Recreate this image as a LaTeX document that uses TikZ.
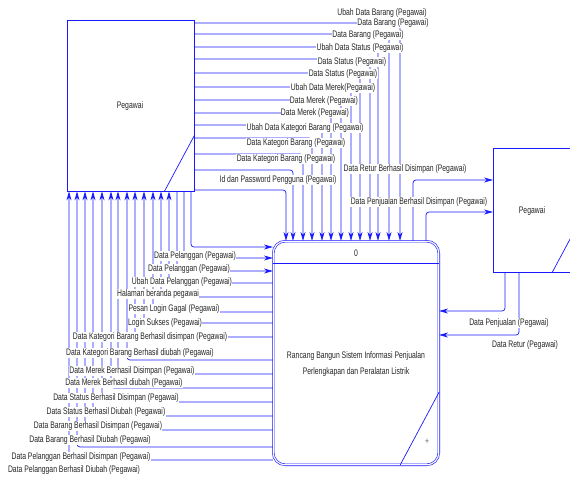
\documentclass[tikz,border=0pt]{standalone}
\usepackage{fontspec}
\setmainfont{Liberation Sans}[FakeStretch=0.72]
\usetikzlibrary{arrows.meta}
\definecolor{lineblue}{RGB}{25,25,255}
\tikzset{
  box/.style={draw=lineblue, line width=0.8pt, fill=white, inner sep=0pt},
  proc/.style={draw=lineblue, double, double distance=1.2pt, line width=0.6pt, rounded corners=12pt, inner sep=0pt},
  flow/.style={draw=lineblue, line width=0.7pt, rounded corners=3pt, -{Stealth[length=9pt,width=5pt]}},
  plain/.style={draw=lineblue, line width=0.7pt},
  lbl/.style={font=\fontsize{9.5}{11}\selectfont, fill=white, inner sep=0.4pt, text=black!85},
  txt/.style={font=\fontsize{9.5}{11}\selectfont, inner sep=0pt, text=black!85}
}
\begin{document}
\begin{tikzpicture}[x=1pt,y=-1pt]
\useasboundingbox (0,0) rectangle (570,479);
\clip (0,0) rectangle (570,479);
% entities and process
\node[box, minimum width=127pt, minimum height=171pt] (pegL) at (130.5,105.5) {};
\node[txt] (pegLlbl) at (130,106) {Pegawai};
\draw[plain] (pegL.south east) ++(-30,0) -- ++(30,-56);
\node[proc, minimum width=165.6pt, minimum height=223.6pt] (proc) at (356,353) {};
\draw[plain, line width=0.8pt] (proc.west |- 0,263) -- (proc.east |- 0,263);
\draw[plain] (proc.south east) ++(-39,0) -- ++(39,-73);
\node[txt] (p0) at (356,253) {0};
\node[txt] (pt1) at (356,356) {Rancang Bangun Sistem Informasi Penjualan};
\node[txt] (pt2) at (356,372) {Perlengkapan dan Peralatan Listrik};
\node[txt, text=black!60] (pplus) at (427,442) {+};
\node[box, minimum width=87pt, minimum height=124pt, anchor=north west] (pegR) at (493,148) {};
\node[txt] (pegRlbl) at (532,211) {Pegawai};
\draw[plain] (pegR.south west) ++(59,0) -- ++(30,-56);
% flows from left Pegawai to process top
\foreach \yy/\xx in {23/400, 34/389, 47/378, 59/370, 73/360, 87/351, 100/341, 113/331, 125/322, 138/312, 154/303, 170/293, 190/286}
  \draw[flow] (pegL.east |- 0,\yy) -| (\xx,0 |- proc.north);
% flows from process left to left Pegawai
\foreach \yy/\xx in {283/169, 297/161, 312/153, 323/144, 337/135, 360/127, 374/118, 388/111, 402/102, 416/93, 430/85, 447/77, 460/69}
  \draw[flow] (proc.west |- 0,\yy) -| (\xx,0 |- pegL.south);
% flows from left Pegawai into process left
\foreach \yy/\xx in {247/191, 258/184, 271/177}
  \draw[flow] (\xx,0 |- pegL.south) |- (proc.west |- 0,\yy);
% process <-> right Pegawai
\draw[flow] (413,0 |- proc.north) |- (pegR.west |- 0,180);
\draw[flow] (426,0 |- proc.north) |- (pegR.west |- 0,212);
\draw[flow] (505,0 |- pegR.south) |- (proc.east |- 0,311);
\draw[flow] (519,0 |- pegR.south) |- (proc.east |- 0,335);
% top labels
\node[lbl] (t1) at (382,13) {Ubah Data Barang (Pegawai)};
\node[lbl] (t2) at (393,23) {Data Barang (Pegawai)};
\node[lbl] (t3) at (368,35) {Data Barang (Pegawai)};
\node[lbl] (t4) at (360,48) {Ubah Data Status (Pegawai)};
\node[lbl] (t5) at (352,62) {Data Status (Pegawai)};
\node[lbl] (t6) at (343,74) {Data Status (Pegawai)};
\node[lbl] (t7) at (333,88) {Ubah Data Merek(Pegawai)};
\node[lbl] (t8) at (324,101) {Data Merek (Pegawai)};
\node[lbl] (t9) at (315,113) {Data Merek (Pegawai)};
\node[lbl] (t10) at (305,128) {Ubah Data Kategori Barang (Pegawai)};
\node[lbl] (t11) at (296,143) {Data Kategori Barang (Pegawai)};
\node[lbl] (t12) at (286,159) {Data Kategori Barang (Pegawai)};
\node[lbl] (t13) at (278,180) {Id dan Password Pengguna (Pegawai)};
% right labels
\node[lbl] (r1) at (405,169) {Data Retur Berhasil Disimpan (Pegawai)};
\node[lbl] (r2) at (419,202) {Data Penjualan Berhasil Disimpan (Pegawai)};
\node[lbl] (r3) at (509,323) {Data Penjualan (Pegawai)};
\node[lbl] (r4) at (525,345) {Data Retur (Pegawai)};
% left labels
\node[lbl] (l1) at (195,256) {Data Pelanggan (Pegawai)};
\node[lbl] (l2) at (189,269) {Data Pelanggan (Pegawai)};
\node[lbl] (l3) at (182,282) {Ubah Data Pelanggan (Pegawai)};
\node[lbl] (l4) at (158,294) {Halaman beranda pegawai};
\node[lbl] (l5) at (174,309) {Pesan Login Gagal (Pegawai)};
\node[lbl] (l6) at (165,323) {Login Sukses (Pegawai)};
\node[lbl] (l7) at (150,337) {Data Kategori Barang Berhasil disimpan (Pegawai)};
\node[lbl] (l8) at (140,353) {Data Kategori Barang Berhasil diubah (Pegawai)};
\node[lbl] (l9) at (132,371) {Data Merek Berhasil Disimpan (Pegawai)};
\node[lbl] (l10) at (124,383) {Data Merek Berhasil diubah (Pegawai)};
\node[lbl] (l11) at (116,398) {Data Status Berhasil Disimpan (Pegawai)};
\node[lbl] (l12) at (106,412) {Data Status Berhasil Diubah (Pegawai)};
\node[lbl] (l13) at (98,426) {Data Barang Berhasil Disimpan (Pegawai)};
\node[lbl] (l14) at (90,440) {Data Barang Berhasil Diubah (Pegawai)};
\node[lbl] (l15) at (81,457) {Data Pelanggan Berhasil Disimpan (Pegawai)};
\node[lbl] (l16) at (74,470) {Data Pelanggan Berhasil Diubah (Pegawai)};
\end{tikzpicture}
\end{document}
